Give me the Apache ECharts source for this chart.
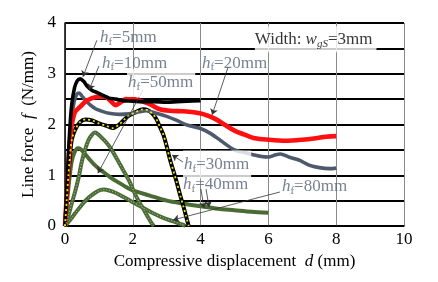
<!DOCTYPE html>
<html><head><meta charset="utf-8">
<script src="https://cdn.jsdelivr.net/npm/echarts@6/dist/echarts.min.js"></script>
<style>html,body{margin:0;padding:0;background:#fff}#c{width:438px;height:282px}</style>
</head><body><div id="c"></div>
<script>
// ---- data ----
var xTicks = [0, 2, 4, 6, 8, 10];
var yTicks = [0, 1, 2, 3, 4];
var hf5 = [[0,0],[0.05,0.7],[0.1,1.4],[0.15,2.0],[0.2,2.4],[0.28,2.72],[0.36,2.86],[0.45,2.9],[0.55,2.85],[0.65,2.76],[0.8,2.67],[0.95,2.63],[1.1,2.58],[1.3,2.52],[1.5,2.5],[1.7,2.47],[2.0,2.46],[2.3,2.45],[2.6,2.45],[3.0,2.44],[3.3,2.45],[3.6,2.46],[4.0,2.47]];
var hf10 = [[0,0],[0.05,0.5],[0.1,1.1],[0.15,1.7],[0.2,2.15],[0.27,2.45],[0.35,2.6],[0.42,2.62],[0.5,2.56],[0.6,2.48],[0.75,2.38],[0.9,2.31],[1.05,2.27],[1.3,2.22],[1.6,2.2],[1.9,2.21],[2.2,2.25],[2.4,2.27],[2.7,2.22],[3.0,2.16],[3.3,2.08],[3.6,1.99],[4.0,1.92],[4.3,1.82],[4.6,1.68],[5.0,1.5],[5.4,1.43],[5.8,1.37],[6.0,1.36],[6.2,1.4],[6.35,1.42],[6.6,1.36],[6.9,1.3],[7.2,1.2],[7.5,1.15],[7.8,1.13],[8.0,1.14]];
var hf20 = [[0,0],[0.05,0.6],[0.1,1.2],[0.15,1.7],[0.2,2.0],[0.3,2.25],[0.45,2.35],[0.6,2.45],[0.8,2.52],[1.0,2.55],[1.2,2.54],[1.35,2.46],[1.5,2.38],[1.6,2.42],[1.8,2.5],[2.0,2.5],[2.2,2.47],[2.5,2.4],[2.8,2.3],[3.1,2.27],[3.5,2.26],[3.8,2.24],[4.1,2.2],[4.4,2.12],[4.7,2.0],[5.0,1.88],[5.3,1.8],[5.6,1.73],[6.0,1.7],[6.5,1.68],[7.0,1.7],[7.4,1.73],[7.7,1.76],[8.0,1.77]];
var hf30 = [[0,0],[0.05,0.5],[0.1,1.0],[0.15,1.4],[0.2,1.7],[0.3,1.9],[0.45,2.05],[0.6,2.1],[0.8,2.08],[1.0,2.02],[1.2,1.98],[1.4,1.93],[1.6,2.0],[1.75,2.1],[1.9,2.18],[2.1,2.25],[2.3,2.3],[2.45,2.28],[2.6,2.2],[2.7,2.1],[2.8,1.95],[2.9,1.8],[3.0,1.57],[3.1,1.3],[3.2,1.08],[3.3,0.85],[3.4,0.6],[3.5,0.37],[3.6,0.12],[3.65,0]];
var greenA = [[0,0],[0.1,0.2],[0.2,0.45],[0.3,0.68],[0.4,0.95],[0.5,1.28],[0.6,1.52],[0.7,1.7],[0.8,1.8],[0.88,1.84],[0.95,1.82],[1.05,1.76],[1.2,1.66],[1.35,1.53],[1.5,1.36],[1.7,1.12],[1.9,0.88],[2.05,0.65],[2.2,0.46],[2.3,0.35],[2.45,0.17],[2.55,0.06],[2.62,0]];
var greenB = [[0,0],[0.05,0.4],[0.1,0.75],[0.15,1.05],[0.2,1.28],[0.28,1.45],[0.38,1.53],[0.45,1.52],[0.55,1.45],[0.7,1.33],[0.85,1.22],[1.0,1.13],[1.2,1.03],[1.4,0.93],[1.6,0.85],[1.8,0.77],[2.0,0.7],[2.5,0.6],[3.0,0.5],[3.5,0.44],[4.0,0.39],[4.5,0.34],[5.0,0.31],[5.5,0.28],[6.0,0.26]];
var greenC = [[0,0],[0.15,0.12],[0.3,0.25],[0.5,0.42],[0.7,0.56],[0.9,0.66],[1.05,0.71],[1.15,0.72],[1.3,0.7],[1.5,0.65],[1.7,0.58],[2.0,0.47],[2.3,0.36],[2.6,0.25],[2.9,0.16],[3.2,0.09],[3.45,0.03],[3.55,0]];
var hfLabels = ['=5mm', '=10mm', '=50mm', '=20mm', '=30mm', '=40mm', '=80mm'];

// ---- annotation placement (data units) ----
var labelPos = [[1.03,3.71],[1.09,3.21],[1.83,2.82],[4.04,3.21],[3.48,1.21],[3.48,0.81],[6.4,0.77]];
var boxed = [false,false,true,false,true,false,false];
var arrows = [
  [[0.94,3.66],[0.53,2.94]],
  [[1.0,3.15],[0.71,2.68]],
  [[2.3,2.68],[0.97,1.04]],
  [[4.81,3.13],[4.34,2.19]],
  [[3.48,1.26],[3.16,1.4]],
  [[4.01,0.73],[4.1,0.35]],
  [[4.16,0.73],[4.25,0.37]],
  [[6.34,0.67],[3.19,0.12]]
];

var serif = "'Liberation Serif','Times New Roman',serif";
var labColor = '#586274';
var green = '#4b6b35';
var FS = 17;

var labelData = hfLabels.map(function(t, i){
  return {
    value: labelPos[i],
    label: {
      show: true, position: 'inside', align: 'left', verticalAlign: 'middle',
      formatter: '{h|h}{f|f}{t|' + t + '}',
      backgroundColor: boxed[i] ? '#fff' : 'transparent',
      padding: boxed[i] ? [4, 2, 4, 1] : 0,
      rich: {
        h: {fontFamily: serif, fontStyle: 'italic', fontSize: FS, color: labColor},
        f: {fontFamily: serif, fontSize: 11, color: labColor, padding: [9,0,0,0]},
        t: {fontFamily: serif, fontSize: FS, color: labColor}
      }
    }
  };
});
labelData.push({
  value: [5.6, 3.68],
  label: {
    show: true, position: 'inside', align: 'left', verticalAlign: 'middle',
    formatter: '{t|Width: }{w|w}{s|gS}{t|=3mm}',
    backgroundColor: '#fff', padding: [3, 4, 3, 0],
    rich: {
      t: {fontFamily: serif, fontSize: FS, color: '#000'},
      w: {fontFamily: serif, fontStyle: 'italic', fontSize: FS, color: '#000'},
      s: {fontFamily: serif, fontStyle: 'italic', fontSize: 11, color: '#000', padding: [9,0,0,0]}
    }
  }
});

function lineSeries(data, color, width, extra){
  var s = {type: 'line', data: data, showSymbol: false, symbol: 'none', smooth: 0.3,
    lineStyle: {color: color, width: width}, z: 3, silent: true};
  if (extra) for (var k in extra) s[k] = extra[k];
  return s;
}

var chart = echarts.init(document.getElementById('c'), null, {renderer: 'canvas'});
chart.setOption({
  animation: false,
  backgroundColor: '#fff',
  grid: {left: 65, top: 23, right: 34, bottom: 56},
  xAxis: {
    type: 'value', min: 0, max: 10, interval: 2,
    axisLine: {show: true, lineStyle: {color: '#000', width: 1.5}},
    axisTick: {show: false},
    axisLabel: {fontFamily: serif, fontSize: FS, color: '#000', margin: 5,
      formatter: function(v){ return xTicks.indexOf(v) >= 0 ? String(v) : ''; }},
    splitLine: {show: true, lineStyle: {color: '#8a8a8a', width: 1}},
    name: '{a|Compressive displacement  }{i|d}{a| (mm)}',
    nameLocation: 'middle', nameGap: 17,
    nameTextStyle: {rich: {
      a: {fontFamily: serif, fontSize: FS, color: '#000'},
      i: {fontFamily: serif, fontSize: FS, fontStyle: 'italic', color: '#000'}}}
  },
  yAxis: {
    type: 'value', min: 0, max: 4, interval: 0.5,
    axisLine: {show: true, lineStyle: {color: '#000', width: 1.5}},
    axisTick: {show: false},
    axisLabel: {fontFamily: serif, fontSize: FS, color: '#000', margin: 9,
      formatter: function(v){ return yTicks.indexOf(v) >= 0 ? String(v) : ''; }},
    splitLine: {show: true, lineStyle: {color: '#000', width: 2}},
    name: '{a|Line force  }{i|f}{a|  (N/mm)}',
    nameLocation: 'middle', nameGap: 26,
    nameTextStyle: {rich: {
      a: {fontFamily: serif, fontSize: FS, color: '#000'},
      i: {fontFamily: serif, fontSize: FS, fontStyle: 'italic', color: '#000'}}}
  },
  series: [
    lineSeries(greenC, green, 4),
    lineSeries(greenC, '#b9c8ab', 1, {lineStyle: {color: '#b9c8ab', width: 1, type: [1, 2]}, z: 4}),
    lineSeries(greenB, green, 4),
    lineSeries(greenA, green, 4),
    lineSeries(greenA, '#b9c8ab', 1, {lineStyle: {color: '#b9c8ab', width: 1, type: [1, 2]}, z: 4}),
    lineSeries(hf30, '#000', 4),
    lineSeries(hf30, '#f2e600', 1.8, {lineStyle: {color: '#f2e600', width: 1.8, type: [2, 3]}, z: 4}),
    lineSeries(hf10, '#4e5a6c', 3.6),
    lineSeries(hf20, '#ff1010', 4.6),
    lineSeries(hf5, '#000', 3.6),
    {
      type: 'scatter', symbolSize: 0, data: labelData, z: 10, silent: true,
      markLine: {
        silent: true, symbol: ['none', 'arrow'], symbolSize: 6,
        label: {show: false},
        lineStyle: {color: '#333', width: 0.8, type: 'solid'},
        data: arrows.map(function(a){ return [{coord: a[0]}, {coord: a[1]}]; })
      }
    }
  ]
});
</script>
</body></html>
